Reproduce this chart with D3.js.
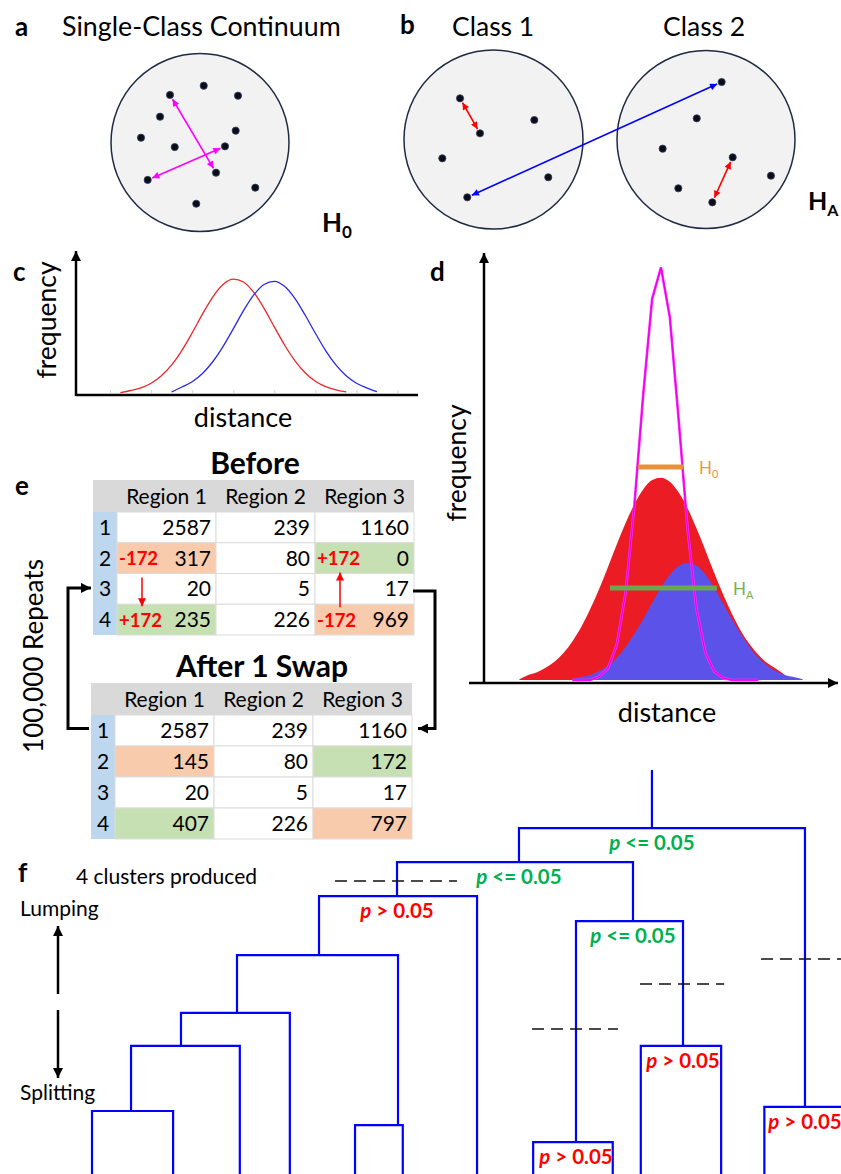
<!DOCTYPE html>
<html>
<head>
<meta charset="utf-8">
<script src="https://cdn.jsdelivr.net/npm/d3@7"></script>
<style>
  html, body { margin: 0; padding: 0; background: #fff; }
  svg { display: block; font-family: Lato, "Open Sans", sans-serif; }
</style>
</head>
<body>
<svg id="fig" width="841" height="1174"></svg>
<script>
// ---------- panel a: one class, points in unit-disk coordinates ----------
const singleClassPoints = [
  [-0.337, -0.534], [0.042, -0.638], [0.427, -0.526], [-0.449, -0.290],
  [0.401, -0.133], [-0.663, -0.054], [-0.284, 0.051], [0.281, 0.043],
  [0.180, 0.339], [-0.588, 0.421], [0.621, 0.508], [-0.042, 0.688]
];
const singleClassPairs = [[0, 8], [9, 7]];

// ---------- panel b: two classes ----------
const class1Points = [
  [-0.374, -0.460], [-0.151, -0.069], [0.456, -0.218],
  [-0.572, 0.210], [0.612, 0.422], [-0.293, 0.646]
];
const class2Points = [
  [0.176, -0.646], [-0.104, -0.238], [-0.487, 0.103], [0.300, 0.200],
  [0.730, 0.407], [-0.311, 0.548], [0.071, 0.706]
];
const class1WithinPair = [0, 1];
const class2WithinPair = [3, 6];
const betweenPair = [5, 0]; // class 1 point -> class 2 point

// ---------- panel c: distance distributions ----------
const cTicks = [1, 2, 3, 4, 5, 6, 7, 8];
const cWithinDist = [1.25, 1.5, 1.75, 2, 2.25, 2.5, 2.75, 3, 3.25, 3.5, 3.75, 4, 4.25, 4.5, 4.75, 5, 5.25, 5.5, 5.75, 6, 6.25, 6.5, 6.75];
const cWithinFreq = [0.004, 0.022, 0.045, 0.086, 0.151, 0.246, 0.374, 0.528, 0.692, 0.842, 0.952, 0.999, 0.974, 0.882, 0.743, 0.580, 0.421, 0.284, 0.178, 0.103, 0.056, 0.028, 0.010];
const cBetweenDist = [2.5, 2.75, 3, 3.25, 3.5, 3.75, 4, 4.25, 4.5, 4.75, 5, 5.25, 5.5, 5.75, 6, 6.25, 6.5, 6.75, 7, 7.25, 7.5];
const cBetweenFreq = [0.010, 0.053, 0.099, 0.171, 0.274, 0.407, 0.562, 0.722, 0.860, 0.952, 0.980, 0.936, 0.830, 0.684, 0.524, 0.372, 0.246, 0.151, 0.086, 0.045, 0.012];

// ---------- panel d: observed and permuted spreads ----------
const dObservedDist = [1, 1.25, 1.5, 1.75, 2, 2.25, 2.5, 2.75, 3, 3.25, 3.5, 3.75, 4, 4.25, 4.5, 4.75, 5, 5.25, 5.5, 5.75, 6, 6.25, 6.5, 6.75, 7, 7.25, 7.5, 7.75, 8, 8.25, 8.5];
const dObservedFreq = [0.002, 0.012, 0.019, 0.030, 0.045, 0.066, 0.094, 0.129, 0.172, 0.220, 0.273, 0.328, 0.380, 0.426, 0.462, 0.484, 0.490, 0.480, 0.454, 0.416, 0.368, 0.315, 0.260, 0.208, 0.161, 0.120, 0.087, 0.061, 0.041, 0.027, 0.012];
const dBetweenDist = [2.5, 2.75, 3, 3.25, 3.5, 3.75, 4, 4.25, 4.5, 4.75, 5, 5.25, 5.5, 5.75, 6, 6.25, 6.5, 6.75, 7, 7.25, 7.5, 7.75, 8, 8.25, 8.5, 8.75, 9];
const dBetweenFreq = [0.003, 0.007, 0.012, 0.021, 0.035, 0.054, 0.080, 0.112, 0.148, 0.187, 0.224, 0.255, 0.276, 0.283, 0.277, 0.256, 0.224, 0.186, 0.148, 0.112, 0.080, 0.054, 0.035, 0.021, 0.012, 0.007, 0.002];
const dPermutedDist = [2.5, 2.75, 3, 3.25, 3.5, 3.75, 4, 4.25, 4.5, 4.75, 5, 5.25, 5.5, 5.75, 6, 6.25, 6.5, 6.75, 7, 7.25, 7.5, 7.75];
const dPermutedFreq = [0, 0, 0, 0.008, 0.028, 0.085, 0.211, 0.425, 0.694, 0.923, 0.999, 0.878, 0.629, 0.366, 0.173, 0.067, 0.021, 0.005, 0, 0, 0, 0];
const spreadH0 = { level: 0.516, from: 4.35, to: 5.62 };
const spreadHA = { level: 0.223, from: 3.56, to: 6.58 };

// ---------- panel e: contingency tables ----------
const regionNames = ["Region 1", "Region 2", "Region 3"];
const clusterNames = ["1", "2", "3", "4"];
const countsBefore = [[2587, 239, 1160], [317, 80, 0], [20, 5, 17], [235, 226, 969]];
const countsAfter = [[2587, 239, 1160], [145, 80, 172], [20, 5, 17], [407, 226, 797]];
const swapDonors = [[1, 0], [3, 2]];     // [row, col] losing counts
const swapRecipients = [[1, 2], [3, 0]]; // [row, col] gaining counts
const swapSize = 172;

// ---------- panel f: dendrogram ----------
const leafPositions = [0, 1.07, 1.95, 2.61, 3.47, 4.10, 5.08, 5.82, 6.87, 7.24, 8.30, 8.87, 10];
const merges = [
  { id: "A", left: 0, right: 1, height: 15.6, stem: 0.515 },
  { id: "B", left: "A", right: 2, height: 31.7, stem: 1.174 },
  { id: "C", left: "B", right: 3, height: 39.9, stem: 1.913 },
  { id: "D", left: 4, right: 5, height: 12.1, stem: 4.037 },
  { id: "E", left: "C", right: "D", height: 54.2, stem: 2.995 },
  { id: "F", left: "E", right: 6, height: 68.8, stem: 4.024, test: "ns" },
  { id: "G", left: 7, right: 8, height: 7.9, stem: 6.385, test: "ns" },
  { id: "H", left: 9, right: 10, height: 31.7, stem: 7.797, test: "ns" },
  { id: "I", left: "G", right: "H", height: 62.6, stem: 7.137, test: "sig" },
  { id: "J", left: "F", right: "I", height: 77.2, stem: 5.633, test: "sig" },
  { id: "K", left: 11, right: 12, height: 16.6, stem: 9.406, test: "ns" },
  { id: "L", left: "J", right: "K", height: 85.6, stem: 7.387, test: "sig" }
];
const rootHeight = 100;
const cutLines = [
  { height: 72.5, from: 3.206, to: 4.815 },
  { height: 53.2, from: 8.826, to: 10.2 },
  { height: 47.0, from: 7.23, to: 8.34 },
  { height: 35.9, from: 5.805, to: 6.939 }
];

// =====================================================================
const svg = d3.select("#fig");
const defs = svg.append("defs");

function arrowMarker(id, color, w, h) {
  defs.append("marker")
    .attr("id", id).attr("viewBox", "0 0 10 10")
    .attr("refX", 10).attr("refY", 5)
    .attr("markerWidth", w).attr("markerHeight", h)
    .attr("markerUnits", "userSpaceOnUse")
    .attr("orient", "auto-start-reverse")
    .append("path").attr("d", "M0,0 L10,5 L0,10 Z").attr("fill", color);
}
arrowMarker("ah-mag", "#ff00ff", 9, 7);
arrowMarker("ah-red", "#ff0000", 9, 7);
arrowMarker("ah-blue", "#0000ff", 9, 7);
arrowMarker("ah-black", "#000", 12, 10);
arrowMarker("ah-red-small", "#ff0000", 9, 8);

function label(x, y, txt, size, opts = {}) {
  const t = svg.append("text").attr("x", x).attr("y", y)
    .attr("font-size", size).attr("fill", opts.fill || "#000")
    .attr("font-weight", opts.bold ? "bold" : "normal")
    .attr("text-anchor", opts.anchor || "start")
    .text(txt);
  if (opts.rotate) t.attr("transform", `rotate(${opts.rotate},${x},${y})`);
  return t;
}

// ---------- disks with points ----------
function disk(cx, cy, r, pts) {
  const sx = d3.scaleLinear().domain([-1, 1]).range([cx - r, cx + r]);
  const sy = d3.scaleLinear().domain([-1, 1]).range([cy - r, cy + r]);
  svg.append("circle").attr("cx", cx).attr("cy", cy).attr("r", r)
    .attr("fill", "#f2f2f2").attr("stroke", "#1f2a44").attr("stroke-width", 1.5);
  return pts.map(p => [sx(p[0]), sy(p[1])]);
}
function pairArrow(p, q, color, marker, inset) {
  const dx = q[0] - p[0], dy = q[1] - p[1], L = Math.hypot(dx, dy);
  const ux = dx / L, uy = dy / L;
  svg.append("line")
    .attr("x1", p[0] + ux * inset).attr("y1", p[1] + uy * inset)
    .attr("x2", q[0] - ux * inset).attr("y2", q[1] - uy * inset)
    .attr("stroke", color).attr("stroke-width", 1.6)
    .attr("marker-start", `url(#${marker})`).attr("marker-end", `url(#${marker})`);
}
function dots(pts) {
  svg.append("g").selectAll("circle").data(pts).join("circle")
    .attr("cx", d => d[0]).attr("cy", d => d[1]).attr("r", 3.6)
    .attr("fill", "#0c0c18").attr("stroke", "#33405e").attr("stroke-width", 0.8);
}

// panel a
label(15, 36, "a", 26, { bold: true });
label(62, 36, "Single-Class Continuum", 26.8);
const aPts = disk(200, 142.5, 89, singleClassPoints);
singleClassPairs.forEach(([i, j]) => pairArrow(aPts[i], aPts[j], "#ff00ff", "ah-mag", 5));
dots(aPts);
const h0 = label(322, 232, "H", 26, { bold: true });
h0.append("tspan").attr("font-size", 17).attr("dy", 6).text("0");

// panel b
label(400, 34, "b", 26, { bold: true });
label(452, 36, "Class 1", 26.5);
label(663, 36, "Class 2", 26.5);
const b1 = disk(493.5, 139.5, 89.5, class1Points);
const b2 = disk(706, 139.5, 89, class2Points);
pairArrow(b1[class1WithinPair[0]], b1[class1WithinPair[1]], "#ff0000", "ah-red", 5);
pairArrow(b2[class2WithinPair[0]], b2[class2WithinPair[1]], "#ff0000", "ah-red", 5);
pairArrow(b1[betweenPair[0]], b2[betweenPair[1]], "#0000ff", "ah-blue", 5);
dots(b1); dots(b2);
const ha = label(808, 210, "H", 25, { bold: true });
ha.append("tspan").attr("font-size", 16).attr("dy", 6).text("A");

// ---------- panel c ----------
{
  const x = d3.scaleLinear().domain([0.17, 8.5]).range([76, 418]);
  const y = d3.scaleLinear().domain([0, 1]).range([393, 279]);
  const g = svg.append("g");
  g.append("g").attr("transform", "translate(0,393)")
    .call(d3.axisTop(x).tickValues(cTicks).tickSize(3).tickFormat(""))
    .call(a => a.select(".domain").remove())
    .call(a => a.selectAll("line").attr("stroke", "#d4d4d4"));
  const line = d3.line().curve(d3.curveMonotoneX);
  g.append("path")
    .attr("d", line(cWithinDist.map((d, i) => [x(d), y(cWithinFreq[i])])))
    .attr("fill", "none").attr("stroke", "#e8282c").attr("stroke-width", 1.3);
  g.append("path")
    .attr("d", line(cBetweenDist.map((d, i) => [x(d), y(cBetweenFreq[i])])))
    .attr("fill", "none").attr("stroke", "#2a2ae6").attr("stroke-width", 1.3);
  // axes
  g.append("line").attr("x1", x.range()[0]).attr("x2", x.range()[1]).attr("y1", 395).attr("y2", 395)
    .attr("stroke", "#000").attr("stroke-width", 2.5);
  g.append("line").attr("x1", 76).attr("x2", 76).attr("y1", 396).attr("y2", 251)
    .attr("stroke", "#000").attr("stroke-width", 2.5).attr("marker-end", "url(#ah-black)");
  label(13, 281, "c", 26, { bold: true });
  label(56, 320, "frequency", 26.5, { anchor: "middle", rotate: -90 });
  label(243, 427, "distance", 27, { anchor: "middle" });
}

// ---------- panel d ----------
{
  const x = d3.scaleLinear().domain([0, 10]).range([484, 838]);
  const y = d3.scaleLinear().domain([0, 1]).range([680, 267]);
  const g = svg.append("g");
  const area = d3.area().curve(d3.curveMonotoneX).y0(y(0));
  g.append("path")
    .attr("d", area.x(d => x(d[0])).y1(d => y(d[1]))(dObservedDist.map((d, i) => [d, dObservedFreq[i]])))
    .attr("fill", "#ec1c24");
  g.append("path")
    .attr("d", area(dBetweenDist.map((d, i) => [d, dBetweenFreq[i]])))
    .attr("fill", "#5b52ea");
  const line = d3.line().x(d => x(d[0])).y(d => y(d[1]));
  const permuted = dPermutedDist.map((d, i) => [d, dPermutedFreq[i]]);
  g.append("path").attr("d", line(permuted)).attr("fill", "none")
    .attr("stroke", "#ff33ff").attr("stroke-width", 2.6);
  g.append("path").attr("d", line(permuted)).attr("fill", "none")
    .attr("stroke", "#ee00ee").attr("stroke-width", 1.4);
  // spread bars
  g.append("line").attr("x1", x(spreadH0.from)).attr("x2", x(spreadH0.to))
    .attr("y1", y(spreadH0.level)).attr("y2", y(spreadH0.level))
    .attr("stroke", "#e8913a").attr("stroke-width", 5);
  g.append("line").attr("x1", x(spreadHA.from)).attr("x2", x(spreadHA.to))
    .attr("y1", y(spreadHA.level)).attr("y2", y(spreadHA.level))
    .attr("stroke", "#6aa84f").attr("stroke-width", 5);
  const lh0 = label(x(spreadH0.to) + 16, y(spreadH0.level) + 7, "H", 17, { fill: "#eb9545" });
  lh0.append("tspan").attr("font-size", 11).attr("dy", 4).text("0");
  const lha = label(x(spreadHA.to) + 16, y(spreadHA.level) + 7, "H", 17, { fill: "#74b054" });
  lha.append("tspan").attr("font-size", 11).attr("dy", 4).text("A");
  // axes
  g.append("line").attr("x1", 469).attr("x2", 838).attr("y1", 683).attr("y2", 683)
    .attr("stroke", "#000").attr("stroke-width", 2.5).attr("marker-end", "url(#ah-black)");
  g.append("line").attr("x1", 484).attr("x2", 484).attr("y1", 684).attr("y2", 253)
    .attr("stroke", "#000").attr("stroke-width", 2.5).attr("marker-end", "url(#ah-black)");
  label(430, 281, "d", 26, { bold: true });
  label(466, 463, "frequency", 26.5, { anchor: "middle", rotate: -90 });
  label(667, 722, "distance", 27, { anchor: "middle" });
}

// ---------- panel e ----------
function table(counts, left, right, headTop, headH, rowsBottom, showSwaps) {
  const idxW = 24;
  const col = d3.scaleBand().domain(d3.range(regionNames.length)).range([left + idxW, right]);
  const row = d3.scaleBand().domain(d3.range(clusterNames.length)).range([headTop + headH, rowsBottom]);
  const g = svg.append("g");
  const isIn = (list, r, c) => list.some(([rr, cc]) => rr === r && cc === c);
  g.append("rect").attr("x", left).attr("y", headTop).attr("width", right - left).attr("height", headH)
    .attr("fill", "#d9d9d9");
  g.append("rect").attr("x", left).attr("y", row.range()[0]).attr("width", idxW)
    .attr("height", rowsBottom - row.range()[0]).attr("fill", "#bdd7ee");
  const cells = [];
  counts.forEach((r, ri) => r.forEach((v, ci) => cells.push({ r: ri, c: ci, v })));
  g.selectAll("rect.cell").data(cells).join("rect").attr("class", "cell")
    .attr("x", d => col(d.c)).attr("y", d => row(d.r))
    .attr("width", col.bandwidth()).attr("height", row.bandwidth())
    .attr("fill", d => isIn(swapDonors, d.r, d.c) ? "#f8cbad" : isIn(swapRecipients, d.r, d.c) ? "#c6e0b4" : "#fff")
    .attr("stroke", "#dcdcdc").attr("stroke-width", 1);
  g.selectAll("text.hdr").data(regionNames).join("text").attr("class", "hdr")
    .attr("x", (d, i) => col(i) + col.bandwidth() / 2).attr("y", headTop + headH / 2 + 7.5)
    .attr("text-anchor", "middle").attr("font-size", 21).text(d => d);
  g.selectAll("text.idx").data(clusterNames).join("text").attr("class", "idx")
    .attr("x", left + idxW / 2).attr("y", (d, i) => row(i) + row.bandwidth() / 2 + 7.5)
    .attr("text-anchor", "middle").attr("font-size", 21).text(d => d);
  g.selectAll("text.val").data(cells).join("text").attr("class", "val")
    .attr("x", d => col(d.c) + col.bandwidth() - 5).attr("y", d => row(d.r) + row.bandwidth() / 2 + 7.5)
    .attr("text-anchor", "end").attr("font-size", 21).text(d => d.v);
  if (showSwaps) {
    const deltas = swapDonors.map(([r, c]) => ({ r, c, t: "-" + swapSize }))
      .concat(swapRecipients.map(([r, c]) => ({ r, c, t: "+" + swapSize })));
    g.selectAll("text.delta").data(deltas).join("text").attr("class", "delta")
      .attr("x", d => col(d.c) + 2).attr("y", d => row(d.r) + row.bandwidth() / 2 + 7)
      .attr("font-size", 18.5).attr("font-weight", "bold").attr("fill", "#ff0000").text(d => d.t);
    // movement arrows: donor -> recipient within each region column
    const moves = [[swapDonors[0], swapRecipients[1]], [swapDonors[1], swapRecipients[0]]];
    moves.forEach(([from, to]) => {
      const xm = col(from[1]) + 25;
      const down = to[0] > from[0];
      const y1 = down ? row(from[0]) + row.bandwidth() + 4 : row(from[0]) + 3;
      const y2 = down ? row(to[0]) + 2 : row(to[0]) + row.bandwidth() - 1;
      g.append("line").attr("x1", xm).attr("x2", xm).attr("y1", y1).attr("y2", y2)
        .attr("stroke", "#ff0000").attr("stroke-width", 1.5).attr("marker-end", "url(#ah-red-small)");
    });
  }
  return { col, row };
}
label(15, 495, "e", 26, { bold: true });
label(255, 474, "Before", 30, { bold: true, anchor: "middle" });
const tBefore = table(countsBefore, 93, 414, 480, 32, 635, true);
label(262, 677, "After 1 Swap", 30, { bold: true, anchor: "middle" });
const tAfter = table(countsAfter, 91, 412, 683, 32, 839, false);
// repeat loop: row 3 of the first table feeds row 1 of the second and back
{
  const yA = tBefore.row(2) + tBefore.row.bandwidth() / 2 + 2;
  const yB = tAfter.row(0) + tAfter.row.bandwidth() / 2 - 2;
  svg.append("path").attr("d", `M413,${yA} H435 V${yB} H418`)
    .attr("fill", "none").attr("stroke", "#000").attr("stroke-width", 3).attr("marker-end", "url(#ah-black)");
  svg.append("path").attr("d", `M89,${yB} H68 V${yA - 3} H91`)
    .attr("fill", "none").attr("stroke", "#000").attr("stroke-width", 3).attr("marker-end", "url(#ah-black)");
  label(43, 656, "100,000 Repeats", 26, { anchor: "middle", rotate: -90 });
}

// ---------- panel f ----------
{
  const x = d3.scaleLinear().domain([0, 10]).range([92, 850]);
  const y = d3.scaleLinear().domain([0, 100]).range([1174, 770]);
  const g = svg.append("g");
  const byId = new Map(merges.map(m => [m.id, m]));
  const node = k => (typeof k === "number") ? { stem: leafPositions[k], height: 0 } : byId.get(k);
  const blue = "#0000ff";
  merges.forEach(m => {
    const L = node(m.left), R = node(m.right);
    g.append("path")
      .attr("d", `M${x(L.stem)},${y(L.height)} V${y(m.height)} H${x(R.stem)} V${y(R.height)}`)
      .attr("fill", "none").attr("stroke", blue).attr("stroke-width", 2.2);
  });
  const top = byId.get("L");
  g.append("line").attr("x1", x(top.stem)).attr("x2", x(top.stem))
    .attr("y1", y(top.height)).attr("y2", y(rootHeight)).attr("stroke", blue).attr("stroke-width", 2.2);
  g.selectAll("line.cut").data(cutLines).join("line").attr("class", "cut")
    .attr("x1", d => x(d.from)).attr("x2", d => x(d.to))
    .attr("y1", d => y(d.height)).attr("y2", d => y(d.height))
    .attr("stroke", "#111").attr("stroke-width", 1.5).attr("stroke-dasharray", "12,7");
  merges.filter(m => m.test).forEach(m => {
    const sig = m.test === "sig";
    const t = g.append("text").attr("x", x(m.stem)).attr("y", y(m.height) + 22)
      .attr("text-anchor", "middle").attr("font-size", 20.5).attr("font-weight", "bold")
      .attr("fill", sig ? "#00b050" : "#ff0000");
    t.append("tspan").attr("font-style", "italic").text("p");
    t.append("tspan").text(sig ? " <= 0.05" : " > 0.05");
  });
  label(18, 882, "f", 26, { bold: true });
  label(76, 884, "4 clusters produced", 21);
  label(20, 916, "Lumping", 21);
  label(20, 1100, "Splitting", 21);
  svg.append("line").attr("x1", 58).attr("x2", 58).attr("y1", 994).attr("y2", 926)
    .attr("stroke", "#000").attr("stroke-width", 2.5).attr("marker-end", "url(#ah-black)");
  svg.append("line").attr("x1", 58).attr("x2", 58).attr("y1", 1010).attr("y2", 1078)
    .attr("stroke", "#000").attr("stroke-width", 2.5).attr("marker-end", "url(#ah-black)");
}
</script>
</body>
</html>
